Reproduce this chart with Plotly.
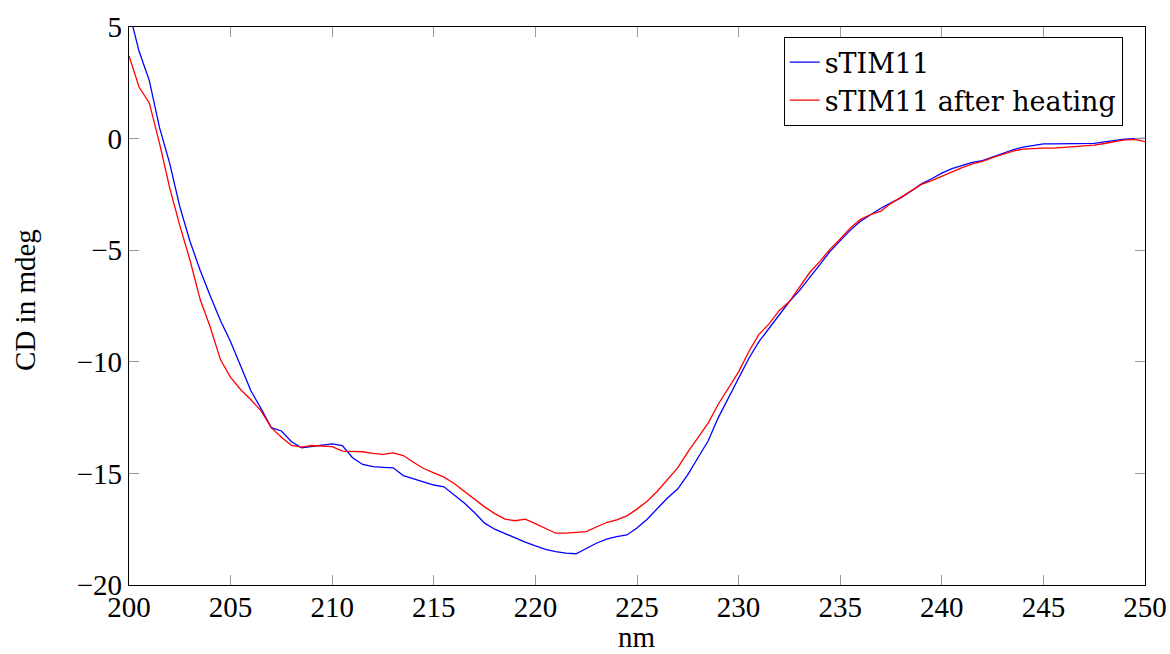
import plotly.graph_objects as go

# Wavelength grid (nm), 0.5 nm steps
wavelength = [200.0 + 0.5 * i for i in range(101)]

# CD signal (mdeg) of the native protein
cd_stim11 = [
    5.7, 3.9, 2.6, 0.5, -1.1, -3.05, -4.6, -5.9, -7.05, -8.15,
    -9.1, -10.2, -11.3, -12.1, -12.95, -13.1, -13.58, -13.85, -13.8, -13.74,
    -13.68, -13.75, -14.3, -14.6, -14.7, -14.73, -14.75, -15.1, -15.25, -15.38,
    -15.52, -15.6, -15.95, -16.33, -16.75, -17.23, -17.5, -17.7, -17.88, -18.08,
    -18.25, -18.4, -18.5, -18.57, -18.6, -18.37, -18.13, -17.95, -17.83, -17.76,
    -17.45, -17.05, -16.55, -16.1, -15.7, -15.05, -14.3, -13.55, -12.5, -11.6,
    -10.75, -9.85, -9.1, -8.5, -7.85, -7.3, -6.8, -6.25, -5.65, -5.05,
    -4.55, -4.1, -3.7, -3.4, -3.12, -2.88, -2.65, -2.35, -2.03, -1.8,
    -1.55, -1.35, -1.2, -1.06, -0.99, -0.82, -0.66, -0.5, -0.38, -0.3,
    -0.24, -0.24, -0.24, -0.24, -0.22, -0.21, -0.15, -0.07, -0.02, 0.0,
    0.01,
]

# CD signal (mdeg) after heating
cd_heated = [
    3.7, 2.3, 1.6, -0.2, -2.2, -3.9, -5.44, -7.2, -8.45, -9.9,
    -10.7, -11.25, -11.7, -12.2, -12.95, -13.38, -13.75, -13.82, -13.75, -13.78,
    -13.8, -14.0, -14.03, -14.03, -14.1, -14.15, -14.08, -14.2, -14.5, -14.78,
    -14.98, -15.17, -15.45, -15.8, -16.15, -16.5, -16.8, -17.05, -17.12, -17.05,
    -17.25, -17.45, -17.68, -17.68, -17.63, -17.61, -17.4, -17.2, -17.08, -16.9,
    -16.6, -16.25, -15.8, -15.28, -14.75, -14.05, -13.4, -12.75, -11.9, -11.2,
    -10.45, -9.55, -8.77, -8.3, -7.7, -7.3, -6.65, -6.0, -5.5, -4.95,
    -4.5, -4.0, -3.62, -3.4, -3.25, -2.9, -2.62, -2.35, -2.05, -1.88,
    -1.68, -1.5, -1.3, -1.13, -1.02, -0.85, -0.7, -0.56, -0.47, -0.44,
    -0.43, -0.43, -0.4, -0.36, -0.33, -0.29, -0.22, -0.13, -0.06, -0.04,
    -0.14,
]

x_ticks = [200, 205, 210, 215, 220, 225, 230, 235, 240, 245, 250]
y_ticks = [-20, -15, -10, -5, 0, 5]

TICK_FONT = dict(family="Liberation Serif", size=29, color="black")
TITLE_FONT = dict(family="Liberation Serif", size=29, color="black")
LEGEND_FONT = dict(family="DejaVu Serif", size=27, color="black")

fig = go.Figure()
fig.add_trace(go.Scatter(x=wavelength, y=cd_stim11, mode="lines", name="sTIM11",
                         line=dict(color="#0000ff", width=1.3)))
fig.add_trace(go.Scatter(x=wavelength, y=cd_heated, mode="lines", name="sTIM11 after heating",
                         line=dict(color="#ff0000", width=1.3)))

axis_common = dict(
    showgrid=False, zeroline=False, automargin=False,
    showline=True, linecolor="black", linewidth=1.2,
    mirror="ticks", ticks="inside", ticklen=10, tickwidth=1, tickcolor="#999999",
    tickfont=TICK_FONT,
)

fig.update_layout(
    width=1170, height=654,
    margin=dict(l=129, r=25, t=27, b=69),
    paper_bgcolor="white", plot_bgcolor="white",
    font=dict(family="Liberation Serif", color="black"),
    showlegend=True,
    legend=dict(x=0.978, y=0.982, xanchor="right", yanchor="top",
                bgcolor="white", bordercolor="black", borderwidth=1,
                font=LEGEND_FONT, tracegroupgap=0, itemwidth=30),
    xaxis=dict(range=[200, 250], tickvals=x_ticks, ticklabelstandoff=-4, **axis_common),
    yaxis=dict(range=[-20, 5], tickvals=y_ticks, **axis_common),
)

# Axis titles placed as paper-referenced annotations
fig.add_annotation(text="nm", xref="paper", yref="paper", x=0.5, y=-69 / 558,
                   xanchor="center", yanchor="bottom", borderpad=0,
                   showarrow=False, font=TITLE_FONT)
fig.add_annotation(text="CD in mdeg", xref="paper", yref="paper", x=-0.1024, y=0.5108,
                   xanchor="center", yanchor="middle", textangle=-90, showarrow=False,
                   font=TITLE_FONT)

fig.write_html("out.html")
